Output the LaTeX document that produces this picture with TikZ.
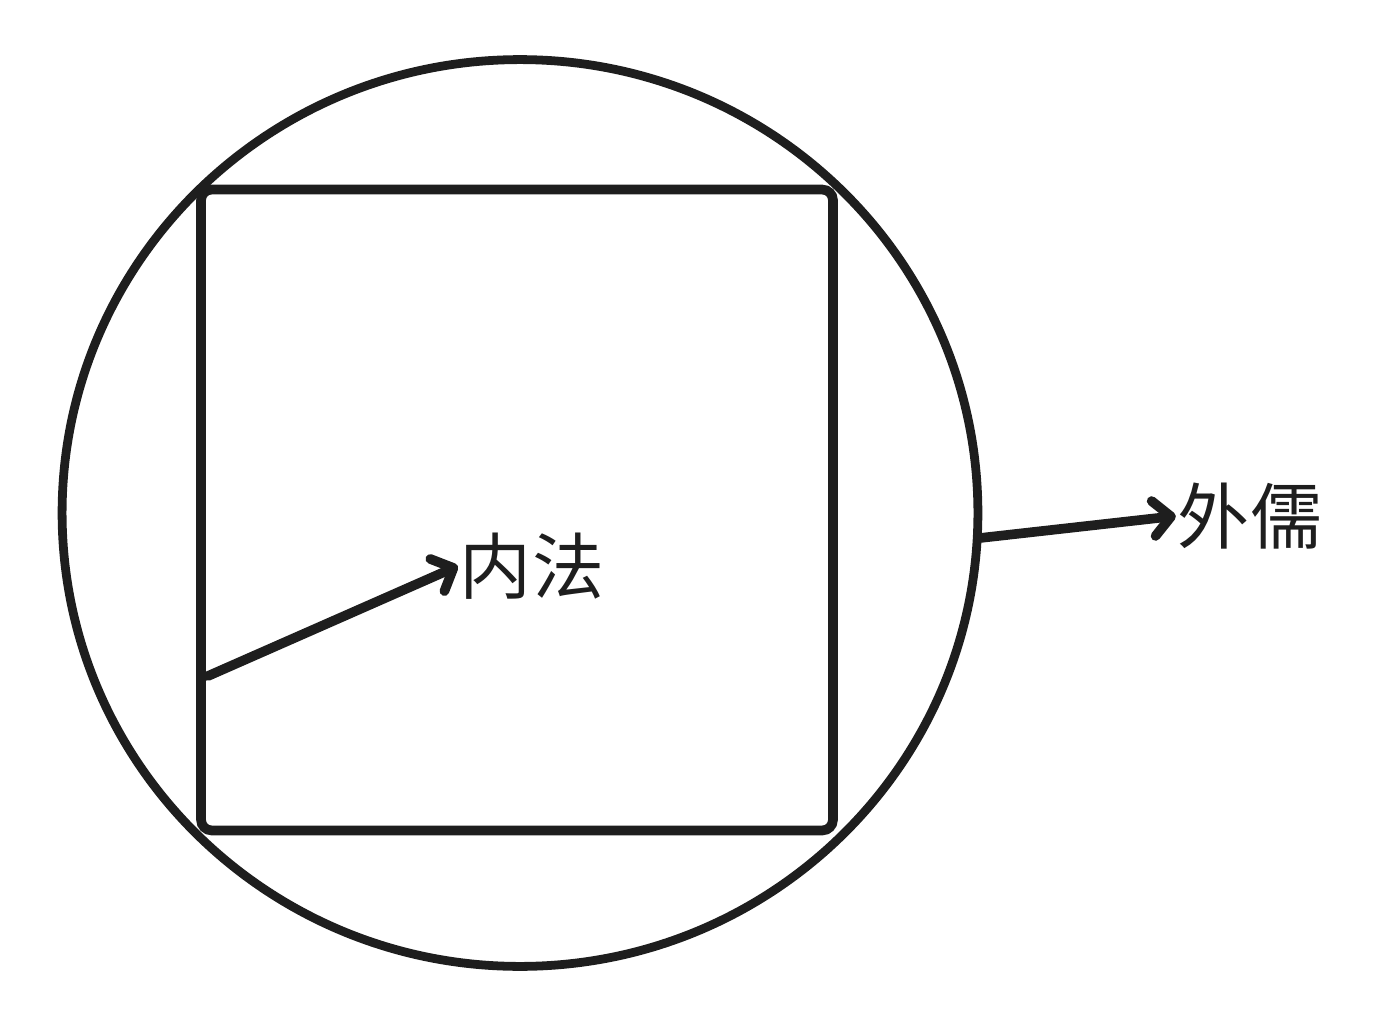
\documentclass[tikz,border=0pt]{standalone}
\usepackage{fontspec}
\newfontfamily\cjk{Noto Sans CJK SC}
\usetikzlibrary{shapes.geometric,arrows.meta}
\definecolor{ink}{HTML}{1E1E1E}
\begin{document}
\begin{tikzpicture}[x=0.02cm,y=-0.02cm,
  outline/.style={draw=ink,line width=5pt},
  boxshape/.style={draw=ink,line width=5.5pt,rounded corners=6pt,minimum width=12.64cm,minimum height=12.82cm,inner sep=0pt},
  label/.style={text=ink,font=\cjk\fontsize{41pt}{46pt}\selectfont,inner sep=1pt},
  arr/.style={draw=ink,line width=5.5pt,line cap=round,-{Straight Barb[length=10pt,width=20pt,round]}}]
\useasboundingbox (0,0) rectangle (1389,1027);
\node[outline,ellipse,minimum width=18.32cm,minimum height=18.14cm,inner sep=0pt] (c) at (520,513) {};
\node[boxshape] (sq) at (517,510) {};
\node[label] (t1) at (532,566) {内法};
\node[label] (t2) at (1250,516) {外儒};
\coordinate (a1) at (208,676);
\coordinate (a2) at (980,538);
\draw[arr] (a1) -- (t1.west);
\draw[arr] (a2) -- (t2.west);
\end{tikzpicture}
\end{document}
